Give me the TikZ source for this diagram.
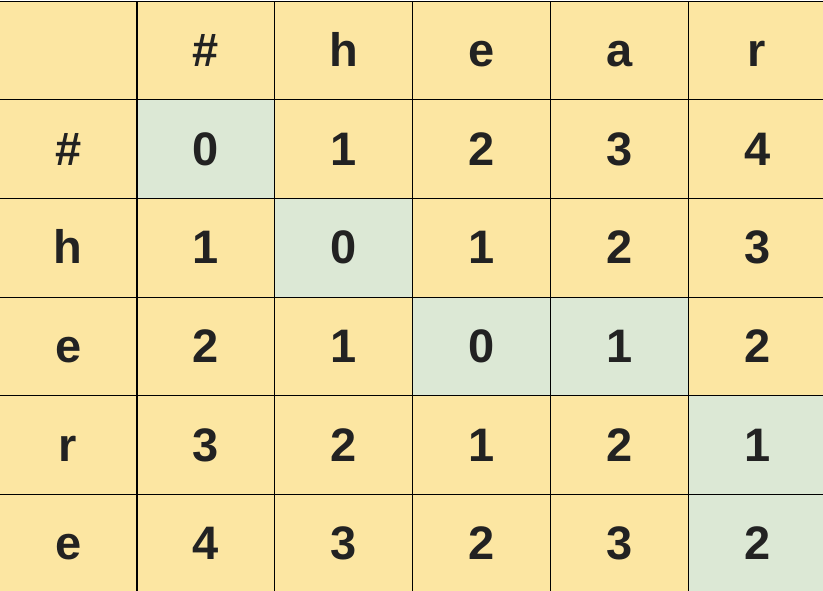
\documentclass[tikz,border=0pt]{standalone}
\usepackage{fontspec}
\setmainfont{Liberation Sans}
\definecolor{cellyellow}{HTML}{FCE6A2}
\definecolor{cellgreen}{HTML}{DCE8D5}
\definecolor{txt}{HTML}{222222}
\tikzset{
  celltext/.style={inner sep=0pt,outer sep=0pt,anchor=base,font=\fontsize{47}{50}\selectfont\bfseries,text=txt},
  yel/.style={fill=cellyellow},
  grn/.style={fill=cellgreen},
  gridline/.style={draw=black,line width=1.2pt}
}
\begin{document}
\begin{tikzpicture}[x=1pt,y=1pt]
\useasboundingbox (0,0) rectangle (823,-591);
\clip (0,0) rectangle (823,-591);
\foreach \r/\rowlist in {
  0/{0/{}/yel,1/\#/yel,2/h/yel,3/e/yel,4/a/yel,5/r/yel},
  1/{0/\#/yel,1/0/grn,2/1/yel,3/2/yel,4/3/yel,5/4/yel},
  2/{0/h/yel,1/1/yel,2/0/grn,3/1/yel,4/2/yel,5/3/yel},
  3/{0/e/yel,1/2/yel,2/1/yel,3/0/grn,4/1/grn,5/2/yel},
  4/{0/r/yel,1/3/yel,2/2/yel,3/1/yel,4/2/yel,5/1/grn},
  5/{0/e/yel,1/4/yel,2/3/yel,3/2/yel,4/3/yel,5/2/grn}}{
  \foreach \c/\lab/\sty in \rowlist{
    \path[\sty] ({-0.8+137.8*\c},{-1.3-98.6*\r}) rectangle ++(137.8,-98.6);
    \node[celltext] (c-\r-\c) at ({-0.8+137.8*\c+68.9},{-1.3-98.6*\r-65.5}) {\lab};
  }
}
\foreach \i in {0,...,6}{
  \draw[gridline] ({-0.8+137.8*\i},-1.3) -- ++(0,-591.6);
  \draw[gridline] (-0.8,{-1.3-98.6*\i}) -- ++(826.8,0);
}
\end{tikzpicture}
\end{document}
